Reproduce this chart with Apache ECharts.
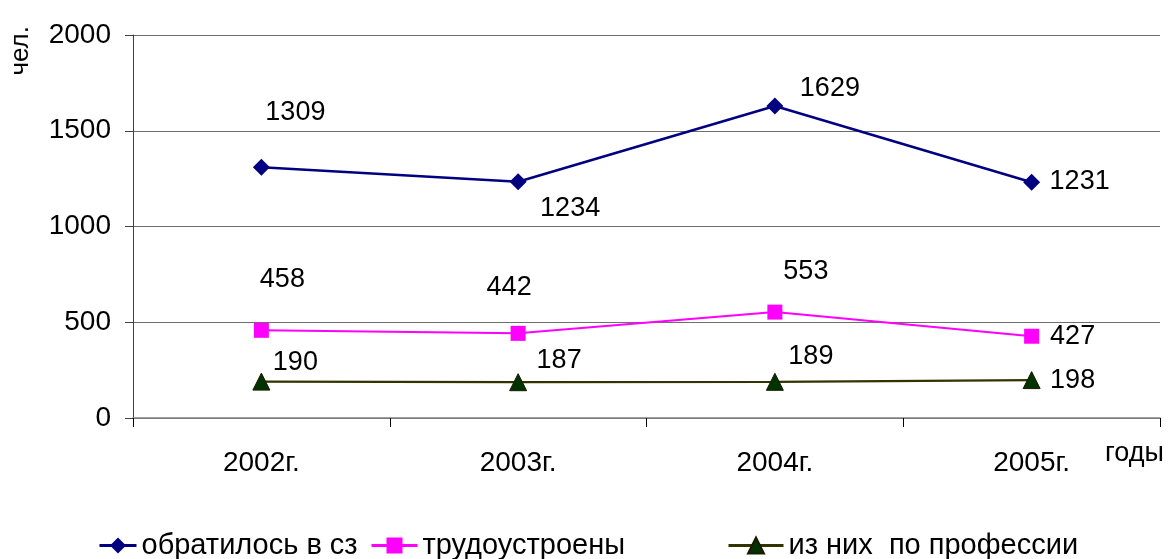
<!DOCTYPE html>
<html>
<head>
<meta charset="utf-8">
<script src="https://cdn.jsdelivr.net/npm/echarts@6/dist/echarts.min.js"></script>
<style>html,body{margin:0;padding:0;background:#fff;}#c{width:1168px;height:559px;}</style>
</head>
<body>
<div id="c"></div>
<script>
const categories = ['2002г.', '2003г.', '2004г.', '2005г.'];
const seriesNames = ['обратилось в сз', 'трудоустроены', 'из них  по профессии'];
const appliedValues = [1309, 1234, 1629, 1231];
const employedValues = [458, 442, 553, 427];
const byProfessionValues = [190, 187, 189, 198];
const yTicks = { min: 0, max: 2000, interval: 500 };

// label offsets (style only): [dx, dy] from the point
const appliedOffsets = [[34, -55], [52, 27], [55, -17], [48, -1]];
const employedOffsets = [[21, -51], [-9, -46], [31, -41], [41, 0]];
const professionOffsets = [[34, -19], [41, -22], [36, -25], [41, 0]];

const FONT = 'Arial, "Liberation Sans", sans-serif';

function withLabels(values, offsets) {
  return values.map((v, i) => ({
    value: v,
    label: { offset: offsets[i] }
  }));
}

const labelBase = {
  show: true,
  position: 'inside',
  color: '#000',
  fontSize: 27,
  fontFamily: FONT
};

const legendText = { fontSize: 29, fontFamily: FONT, color: '#000' };

const chart = echarts.init(document.getElementById('c'), null, { renderer: 'canvas' });
chart.setOption({
  animation: false,
  backgroundColor: '#fff',
  grid: { left: 133, right: 8, top: 35, bottom: 141, containLabel: false },
  xAxis: {
    type: 'category',
    data: categories,
    boundaryGap: true,
    axisLine: { lineStyle: { color: '#808080', width: 1.5 } },
    axisTick: { show: true, length: 9, lineStyle: { color: '#000' }, alignWithLabel: false },
    axisLabel: { color: '#000', fontSize: 28, fontFamily: FONT, margin: 31 },
    splitLine: { show: false }
  },
  yAxis: {
    type: 'value',
    min: yTicks.min, max: yTicks.max, interval: yTicks.interval,
    axisLine: { show: true, lineStyle: { color: '#404040', width: 1 } },
    axisTick: { show: true, length: 8, lineStyle: { color: '#404040' } },
    axisLabel: { color: '#000', fontSize: 28, fontFamily: FONT, margin: 22, formatter: v => String(v) },
    splitLine: { show: true, lineStyle: { color: '#6e6e6e', width: 1.2 } }
  },
  legend: [
    { data: [seriesNames[0]], left: 98, top: 531, padding: 0, itemWidth: 37, itemHeight: 20, itemGap: 0,
      lineStyle: { width: 3 }, textStyle: legendText },
    { data: [seriesNames[1]], left: 370, top: 531, padding: 0, itemWidth: 46, itemHeight: 20, itemGap: 0,
      lineStyle: { width: 3 }, textStyle: legendText },
    { data: [seriesNames[2]], left: 727, top: 531, padding: 0, itemWidth: 55, itemHeight: 20, itemGap: 0,
      lineStyle: { width: 3 }, textStyle: legendText }
  ],
  graphic: [
    { type: 'text', left: 8, top: 26, rotation: Math.PI / 2,
      style: { text: 'чел.', fontSize: 26, fontFamily: FONT, fill: '#000' } },
    { type: 'text', left: 1105, top: 440,
      style: { text: 'годы', fontSize: 27, fontFamily: FONT, fill: '#000' } }
  ],
  series: [
    {
      name: seriesNames[0], type: 'line',
      data: withLabels(appliedValues, appliedOffsets),
      symbol: 'diamond', symbolSize: 17,
      lineStyle: { color: '#000080', width: 2.5 },
      itemStyle: { color: '#000080' },
      label: labelBase
    },
    {
      name: seriesNames[1], type: 'line',
      data: withLabels(employedValues, employedOffsets),
      symbol: 'rect', symbolSize: 15,
      lineStyle: { color: '#FF00FF', width: 2 },
      itemStyle: { color: '#FF00FF' },
      label: labelBase
    },
    {
      name: seriesNames[2], type: 'line',
      data: withLabels(byProfessionValues, professionOffsets),
      symbol: 'triangle', symbolSize: 17,
      lineStyle: { color: '#333300', width: 2.2 },
      itemStyle: { color: '#003300', borderColor: '#1a1a00', borderWidth: 1 },
      label: labelBase
    }
  ]
});
</script>
</body>
</html>
